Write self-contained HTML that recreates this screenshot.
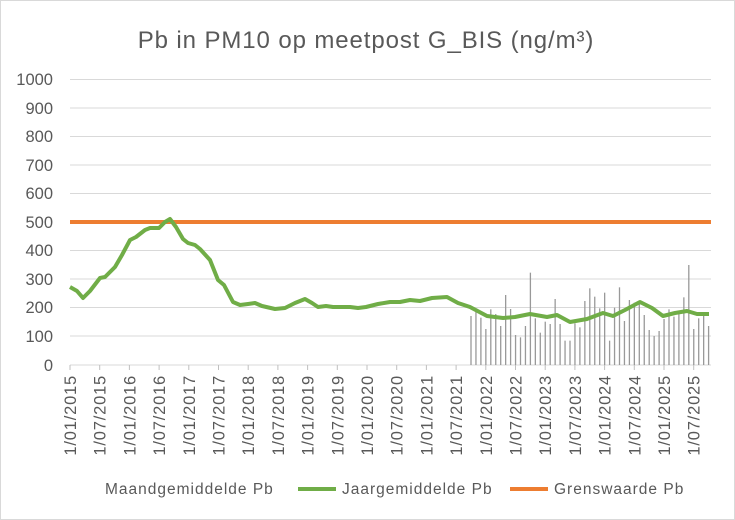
<!DOCTYPE html>
<html><head><meta charset="utf-8"><style>
body{margin:0;background:#fff;}
svg{display:block;font-family:"Liberation Sans",sans-serif;}
</style></head><body>
<svg width="735" height="520" viewBox="0 0 735 520">
<rect x="0.5" y="0.5" width="734" height="519" fill="#fff" stroke="#d9d9d9"/>
<text x="366" y="48" text-anchor="middle" font-size="24" letter-spacing="0.9" fill="#595959">Pb in PM10 op meetpost G_BIS (ng/m³)</text>
<g stroke="#d9d9d9" stroke-width="1">
<line x1="70" x2="711" y1="79.5" y2="79.5"/><line x1="70" x2="711" y1="108" y2="108"/>
<line x1="70" x2="711" y1="136.5" y2="136.5"/><line x1="70" x2="711" y1="165" y2="165"/>
<line x1="70" x2="711" y1="193.5" y2="193.5"/><line x1="70" x2="711" y1="222" y2="222"/>
<line x1="70" x2="711" y1="250.5" y2="250.5"/><line x1="70" x2="711" y1="279" y2="279"/>
<line x1="70" x2="711" y1="307.5" y2="307.5"/><line x1="70" x2="711" y1="336" y2="336"/>
<line x1="70" x2="711" y1="365" y2="365"/>
</g>
<g font-size="16.5" fill="#595959" text-anchor="end">
<text x="53" y="85">1000</text><text x="53" y="114">900</text><text x="53" y="142">800</text>
<text x="53" y="171">700</text><text x="53" y="199">600</text><text x="53" y="228">500</text>
<text x="53" y="256">400</text><text x="53" y="285">300</text><text x="53" y="313">200</text>
<text x="53" y="342">100</text><text x="53" y="371">0</text>
</g>
<g stroke="#999" stroke-width="1.3" id="bars"></g>
<polyline fill="none" stroke="#ED7D31" stroke-width="4" points="70,222 711,222"/>
<polyline fill="none" stroke="#70AD47" stroke-width="4" stroke-linejoin="round" points="70,287 77,291 83,298 90,291 100,278 105,277 115,267 122,255 130,240 136,237 145,230 150,228 159,228 165,222 170,219 176,227 183,239 188,243 195,245 200,249 210,260 218,280 224,285 233,302 240,305 248,304 255,303 262,306 275,309 285,308 295,303 305,299 312,303 318,307 326,306 333,307 340,307 350,307 358,308 366,307 378,304 390,302 400,302 410,300 420,301 432,298 447,297 458,303 470,307 487,316 503,318 515,317 530,314 547,317 557,315 570,322 587,319 603,313 613,316 625,310 640,302 652,308 663,316 675,313 687,311 697,314 709,314"/>
<g id="ticks" stroke="#bfbfbf"></g>
<g id="xl" font-size="16.5" letter-spacing="0.8" fill="#595959"></g>
<g font-size="15.5" letter-spacing="1" fill="#595959">
<text x="105" y="494">Maandgemiddelde Pb</text>
<line x1="298" x2="336" y1="489" y2="489" stroke="#70AD47" stroke-width="4"/>
<text x="342" y="494">Jaargemiddelde Pb</text>
<line x1="510" x2="548" y1="489" y2="489" stroke="#ED7D31" stroke-width="4"/>
<text x="554" y="494">Grenswaarde Pb</text>
</g>
<script>
var ns="http://www.w3.org/2000/svg";
var tops=[198,185,203,237,178,192,228,135,177,255,262,228,68,205,248,215,222,147,222,272,272,220,232,153,115,140,175,128,272,173,112,213,150,158,160,195,240,258,243,207,178,200,188,142,45,237,205,195,228];
var b=document.getElementById("bars");
tops.forEach(function(t,i){var x=471+i*4.95;var l=document.createElementNS(ns,"line");l.setAttribute("x1",x);l.setAttribute("x2",x);l.setAttribute("y1",250+t/3);l.setAttribute("y2",365);b.appendChild(l);});
var tk=document.getElementById("ticks"),xl=document.getElementById("xl");
for(var i=0;i<22;i++){var x=70+i*29.7;var l=document.createElementNS(ns,"line");l.setAttribute("x1",x);l.setAttribute("x2",x);l.setAttribute("y1",365);l.setAttribute("y2",370);tk.appendChild(l);
var y=2015+Math.floor(i/2);var s=(i%2?"1/07/":"1/01/")+y;var t=document.createElementNS(ns,"text");t.setAttribute("transform","translate("+(x+6)+",375) rotate(-90)");t.setAttribute("text-anchor","end");t.textContent=s;xl.appendChild(t);}
</script>
</svg>
</body></html>
